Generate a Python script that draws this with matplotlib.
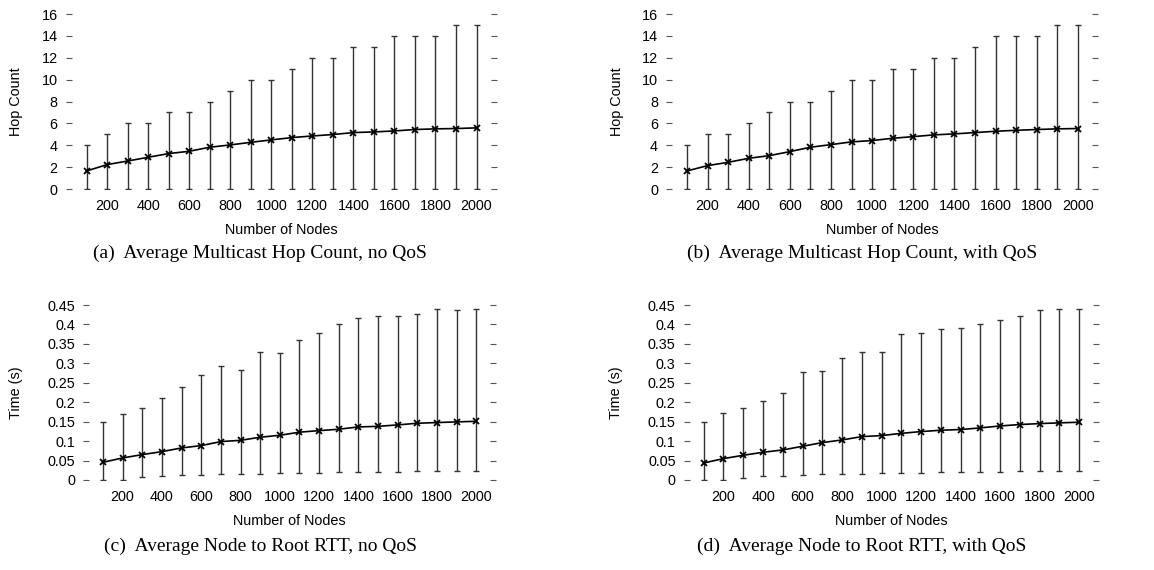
import matplotlib
matplotlib.use("Agg")
import matplotlib.pyplot as plt
import numpy as np

plt.rcParams['font.family'] = ['Liberation Sans', 'DejaVu Sans']

# number of nodes
nodes = np.arange(100, 2001, 100)

# (a) hop count, no QoS
hop_noqos_mean = [1.65, 2.23, 2.56, 2.90, 3.24, 3.45, 3.82, 4.03, 4.27, 4.49,
                  4.70, 4.85, 4.98, 5.16, 5.22, 5.31, 5.44, 5.50, 5.53, 5.59]
hop_noqos_max = [4, 5, 6, 6, 7, 7, 8, 9, 10, 10, 11, 12, 12, 13, 13, 14, 14, 14, 15, 15]
hop_noqos_min = [0] * 20

# (b) hop count, with QoS
hop_qos_mean = [1.65, 2.14, 2.44, 2.81, 3.05, 3.42, 3.82, 4.06, 4.31, 4.43,
                4.64, 4.79, 4.95, 5.04, 5.16, 5.28, 5.37, 5.44, 5.50, 5.53]
hop_qos_max = [4, 5, 5, 6, 7, 8, 8, 9, 10, 10, 11, 11, 12, 12, 13, 14, 14, 14, 15, 15]
hop_qos_min = [0] * 20

# (c) RTT, no QoS
rtt_noqos_mean = [0.0455, 0.0567, 0.0653, 0.0730, 0.0824, 0.0885, 0.0988, 0.1020, 0.1100, 0.1150,
                  0.1230, 0.1270, 0.1305, 0.1365, 0.1380, 0.1417, 0.1460, 0.1477, 0.1494, 0.1510]
rtt_noqos_max = [0.150, 0.171, 0.185, 0.212, 0.239, 0.269, 0.294, 0.284, 0.329, 0.327,
                 0.359, 0.377, 0.400, 0.4165, 0.421, 0.423, 0.426, 0.439, 0.436, 0.440]
rtt_noqos_min = [0.0, 0.0, 0.007, 0.0103, 0.012, 0.013, 0.0155, 0.0155, 0.016, 0.017,
                 0.018, 0.019, 0.020, 0.0206, 0.021, 0.021, 0.022, 0.022, 0.022, 0.022]

# (d) RTT, with QoS
rtt_qos_mean = [0.0438, 0.0550, 0.0636, 0.0713, 0.0773, 0.0867, 0.0962, 0.1030, 0.1116, 0.1142,
                0.1200, 0.1245, 0.1280, 0.1297, 0.1340, 0.1390, 0.1426, 0.1451, 0.1469, 0.1486]
rtt_qos_max = [0.148, 0.1735, 0.1864, 0.2027, 0.225, 0.2765, 0.2808, 0.3143, 0.329, 0.3298,
               0.3744, 0.3787, 0.3873, 0.390, 0.402, 0.412, 0.421, 0.436, 0.4406, 0.4406]
rtt_qos_min = [0.0, 0.0, 0.006, 0.0094, 0.011, 0.0137, 0.0155, 0.016, 0.016, 0.017,
               0.018, 0.019, 0.020, 0.020, 0.021, 0.021, 0.022, 0.022, 0.022, 0.022]

captions = ["(a)  Average Multicast Hop Count, no QoS",
            "(b)  Average Multicast Hop Count, with QoS",
            "(c)  Average Node to Root RTT, no QoS",
            "(d)  Average Node to Root RTT, with QoS"]

panels = [
    (hop_noqos_mean, hop_noqos_min, hop_noqos_max, "Hop Count"),
    (hop_qos_mean, hop_qos_min, hop_qos_max, "Hop Count"),
    (rtt_noqos_mean, rtt_noqos_min, rtt_noqos_max, "Time (s)"),
    (rtt_qos_mean, rtt_qos_min, rtt_qos_max, "Time (s)"),
]

# axes rectangles in figure fraction
rects = [[0.0572, 0.6684, 0.3735, 0.307],
         [0.5775, 0.6684, 0.3744, 0.307],
         [0.0722, 0.1579, 0.3576, 0.307],
         [0.5927, 0.1579, 0.3596, 0.307]]
cap_x = [260 / 1154, 862 / 1154, 260 / 1154, 862 / 1154]
cap_y = [1 - 253 / 570, 1 - 253 / 570, 1 - 546 / 570, 1 - 546 / 570]

fig = plt.figure(figsize=(11.54, 5.70), dpi=100)

for i, ((mean, lo, hi, ylab), rect) in enumerate(zip(panels, rects)):
    ax = fig.add_axes(rect)
    mean = np.array(mean); lo = np.array(lo); hi = np.array(hi)
    ax.errorbar(nodes, mean, yerr=[mean - lo, hi - mean], fmt='none',
                ecolor='#333333', elinewidth=1.0, capsize=2.3, capthick=1.0)
    ax.plot(nodes, mean, '-k', lw=1.2, marker='x', ms=5, mew=1.3)
    ax.set_xlim(0, 2100)
    ax.set_xticks(np.arange(200, 2001, 200))
    if i < 2:
        ax.set_ylim(0, 16)
        ax.set_yticks(np.arange(0, 17, 2))
        ylpad = 13
    else:
        ax.set_ylim(0, 0.45)
        ax.set_yticks(np.arange(0, 0.451, 0.05))
        ax.set_yticklabels(['0', '0.05', '0.1', '0.15', '0.2', '0.25', '0.3',
                            '0.35', '0.4', '0.45'])
        ylpad = 17.5
    for s in ax.spines.values():
        s.set_visible(False)
    ax.tick_params(axis='y', direction='in', length=4, left=True, right=True,
                   labelsize=10.4, pad=6, color='#555555')
    ax.tick_params(axis='x', length=0, labelsize=10.4, pad=7)
    ax.set_ylabel(ylab, fontsize=10.4, labelpad=ylpad)
    ax.set_xlabel("Number of Nodes", fontsize=10.4, labelpad=7.5)
    ax.patch.set_alpha(0)

    fig.text(cap_x[i], cap_y[i], captions[i], ha='center', va='center', fontsize=14,
             family=['Liberation Serif', 'DejaVu Serif'])

fig.savefig("out.png", dpi=100)
